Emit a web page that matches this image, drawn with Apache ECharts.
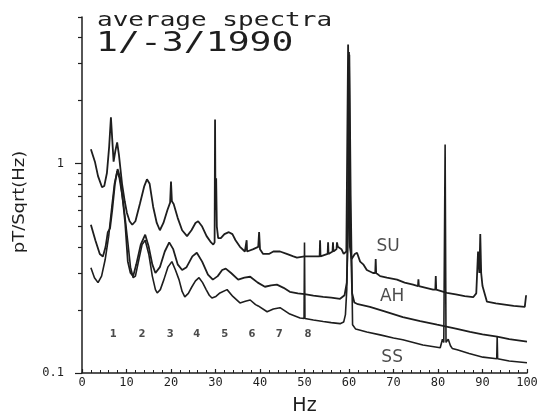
<!DOCTYPE html>
<html><head><meta charset="utf-8">
<script src="https://cdn.jsdelivr.net/npm/echarts@6/dist/echarts.min.js"></script>
<style>html,body{margin:0;padding:0;background:#fff}#c{width:542px;height:412px}</style>
</head><body><div id="c"></div>
<script>
// ---- data ----
const suHz = [2.0,2.9,3.6,4.5,5.0,5.6,6.1,6.5,6.8,7.1,7.5,7.9,8.3,9.0,9.6,10.1,10.7,11.3,12.0,13.0,14.0,14.6,15.2,16.0,16.8,17.5,18.3,19.2,19.8,20.0,20.2,20.6,21.5,22.5,23.6,24.6,25.5,26.1,27.0,28.0,29.0,29.5,29.8,29.9,30.0,30.15,30.3,30.6,31.2,32.0,33.0,33.8,34.5,35.5,36.6,36.9,37.0,37.1,38.5,39.6,39.8,40.0,40.7,42.0,43.0,44.5,46.0,47.5,48.3,50.0,52.0,53.4,53.5,53.6,55.2,55.3,55.4,56.3,56.4,56.5,57.2,57.3,57.5,58.3,58.8,59.4,59.8,60.2,60.6,61.3,61.8,62.5,63.2,64.0,65.4,65.9,66.0,66.1,67.0,68.5,70.8,72.5,74.4,75.5,75.6,75.7,76.0,78.9,79.4,79.5,79.6,80.0,82.0,84.0,86.0,87.9,88.6,89.0,89.3,89.5,89.7,90.0,91.0,93.0,95.0,97.0,99.5,99.8];
const suVal = [1.17,1.02,0.87,0.77,0.78,0.90,1.20,1.66,1.30,1.02,1.15,1.26,1.10,0.80,0.66,0.58,0.53,0.51,0.53,0.64,0.78,0.84,0.80,0.62,0.52,0.48,0.52,0.60,0.65,0.82,0.66,0.64,0.55,0.48,0.45,0.48,0.52,0.53,0.50,0.45,0.42,0.41,0.42,1.62,0.60,0.85,0.50,0.44,0.44,0.46,0.47,0.46,0.43,0.40,0.38,0.38,0.43,0.38,0.39,0.40,0.47,0.39,0.37,0.37,0.38,0.38,0.37,0.36,0.355,0.36,0.36,0.36,0.43,0.36,0.37,0.42,0.37,0.38,0.42,0.38,0.39,0.42,0.40,0.39,0.37,0.38,3.70,0.40,0.35,0.37,0.375,0.34,0.33,0.31,0.30,0.30,0.35,0.30,0.29,0.285,0.279,0.27,0.264,0.26,0.28,0.26,0.257,0.25,0.25,0.29,0.25,0.248,0.241,0.237,0.233,0.23,0.24,0.38,0.30,0.46,0.30,0.26,0.219,0.215,0.212,0.209,0.207,0.235];

const ahHz = [2.0,3.0,4.0,4.7,5.3,5.8,6.3,6.8,7.4,8.0,8.6,9.2,9.7,10.3,10.9,11.5,12.2,13.2,14.2,15.0,15.8,16.5,17.5,18.6,19.6,20.5,21.5,22.5,23.5,24.8,25.8,27.0,28.3,29.4,30.5,31.5,32.3,33.5,35.1,36.5,37.8,39.5,41.1,42.5,43.8,45.3,46.7,48.5,50.0,52.0,54.2,56.0,58.0,59.0,59.5,59.8,60.0,60.3,60.7,61.2,62.0,64.7,68.0,72.1,76.0,79.8,84.0,87.2,90.0,93.3,96.0,100.0];
const ahVal = [0.51,0.43,0.37,0.36,0.40,0.47,0.49,0.60,0.80,0.94,0.85,0.66,0.52,0.34,0.30,0.29,0.33,0.41,0.457,0.40,0.33,0.30,0.32,0.38,0.42,0.39,0.33,0.31,0.32,0.36,0.375,0.34,0.295,0.279,0.29,0.31,0.315,0.30,0.279,0.285,0.288,0.27,0.258,0.262,0.264,0.255,0.244,0.24,0.238,0.234,0.231,0.229,0.226,0.235,0.27,0.50,3.40,0.50,0.24,0.217,0.213,0.207,0.197,0.185,0.177,0.17,0.163,0.157,0.153,0.149,0.145,0.141];

const ssHz = [2.0,2.8,3.6,4.4,5.2,6.0,6.7,7.3,7.9,8.4,9.0,9.6,10.3,10.9,11.5,12.0,12.8,13.5,14.2,15.0,15.8,16.5,16.9,17.6,18.4,19.3,20.2,21.0,21.8,22.5,23.1,23.9,24.7,25.5,26.3,27.1,27.9,28.6,29.2,30.1,31.0,32.6,33.9,35.5,36.7,37.8,39.0,39.6,41.6,43.0,44.5,45.6,46.7,49.0,49.9,50.0,50.1,52.0,54.2,56.0,58.0,58.8,59.2,59.5,59.8,60.1,60.4,60.6,60.8,61.5,64.0,67.0,70.0,72.1,76.6,80.5,80.8,81.0,81.3,81.6,81.8,82.3,82.8,83.2,84.3,87.0,90.1,93.2,93.3,93.4,96.0,100.0];
const ssVal = [0.318,0.285,0.27,0.29,0.347,0.45,0.62,0.80,0.92,0.85,0.71,0.57,0.42,0.32,0.285,0.29,0.35,0.41,0.43,0.37,0.29,0.25,0.241,0.25,0.279,0.32,0.34,0.31,0.279,0.245,0.231,0.24,0.258,0.275,0.285,0.27,0.25,0.235,0.228,0.232,0.241,0.25,0.232,0.216,0.22,0.223,0.212,0.209,0.196,0.202,0.205,0.198,0.191,0.183,0.182,0.42,0.182,0.179,0.176,0.174,0.172,0.175,0.19,0.25,0.60,3.30,0.70,0.35,0.17,0.162,0.157,0.152,0.147,0.144,0.136,0.132,0.131,0.145,0.14,1.23,0.14,0.145,0.135,0.131,0.129,0.124,0.119,0.117,0.149,0.117,0.114,0.112];

const curveNames = ['SU','AH','SS'];
const curveNameHz = [68.8,69.7,69.7];
const curveNameVal = [0.40,0.231,0.118];

const modeNames = ['1','2','3','4','5','6','7','8'];
const modeHz = [7.0,13.5,19.8,25.8,32.1,38.2,44.3,50.8];
const modeVal = 0.152;

const yMajorTicks = [0.1,1];
const yMajorLabels = ['0.1','1'];
const yMinorTicks = [0.2,0.3,0.4,0.5,0.6,0.7,0.8,0.9,2,3,4,5];

const titleLine1 = 'average spectra';
const titleLine2 = '1/-3/1990';
const yName = 'pT/Sqrt(Hz)';
const xName = 'Hz';

// ---- chart ----
const zip = (xs, ys) => xs.map((x, i) => [x, ys[i]]);
const ink = '#1e1e1e';
const chart = echarts.init(document.getElementById('c'), null, {renderer: 'canvas'});

const lineSeries = (name, xs, ys, w) => ({
  name, type: 'line', data: zip(xs, ys), showSymbol: false, symbol: 'none',
  lineStyle: {color: ink, width: w}, animation: false, z: 3
});

chart.setOption({
  backgroundColor: '#fff',
  animation: false,
  grid: {left: 82, right: 15, top: 17, bottom: 39, containLabel: false, outerBoundsMode: 'none'},
  xAxis: {
    type: 'value', min: 0, max: 100, interval: 10,
    axisLine: {lineStyle: {color: ink, width: 1.5}},
    axisTick: {inside: true, length: 4, lineStyle: {color: ink, width: 1.2}},
    minorTick: {show: true, splitNumber: 5, length: 3, lineStyle: {color: ink, width: 1}},
    splitLine: {show: false},
    axisLabel: {color: ink, fontFamily: 'DejaVu Sans Mono', fontSize: 12, margin: 4},
    name: xName, nameLocation: 'middle', nameGap: 24,
    nameTextStyle: {color: ink, fontFamily: 'DejaVu Sans', fontSize: 19}
  },
  yAxis: [{
    type: 'log', logBase: 10, min: 0.1, max: 5,
    axisLine: {lineStyle: {color: ink, width: 1.5}},
    axisTick: {length: 7, customValues: yMajorTicks, lineStyle: {color: ink, width: 1.2}},
    axisLabel: {customValues: yMajorTicks, color: ink, fontFamily: 'DejaVu Sans Mono', fontSize: 12, margin: 18,
      formatter: v => { const i = yMajorTicks.findIndex(t => Math.abs(t - v) < 1e-9); return i >= 0 ? yMajorLabels[i] : ''; }},
    splitLine: {show: false}, minorTick: {show: false}
  }, {
    type: 'log', logBase: 10, min: 0.1, max: 5, position: 'left',
    axisLine: {show: false},
    axisTick: {length: 4, customValues: yMinorTicks, lineStyle: {color: ink, width: 1.2}},
    axisLabel: {show: false}, splitLine: {show: false}
  }],
  series: [
    lineSeries('SU', suHz, suVal, 1.8),
    lineSeries('AH', ahHz, ahVal, 1.8),
    lineSeries('SS', ssHz, ssVal, 1.6),
    {
      type: 'scatter', symbolSize: 0, silent: true, z: 5,
      data: curveNames.map((n, i) => ({name: n, value: [curveNameHz[i], curveNameVal[i]]})),
      label: {show: true, position: 'inside', formatter: '{b}', color: ink, fontFamily: 'DejaVu Sans', fontSize: 17}
    },
    {
      type: 'scatter', symbolSize: 0, silent: true, z: 5,
      data: modeNames.map((n, i) => ({name: n, value: [modeHz[i], modeVal]})),
      label: {show: true, position: 'inside', formatter: '{b}', color: ink, fontFamily: 'DejaVu Sans', fontWeight: 'bold', fontSize: 10}
    }
  ],
  graphic: [
    {type: 'text', x: 97, y: 21, scaleX: 1.37, z: 10,
      style: {text: titleLine1, font: '19px "DejaVu Sans Mono"', fill: ink, textVerticalAlign: 'middle'}},
    {type: 'text', x: 96, y: 44, scaleX: 1.35, z: 10,
      style: {text: titleLine2, font: '27px "DejaVu Sans Mono"', fill: ink, textVerticalAlign: 'middle'}},
    {type: 'text', x: 20, y: 202, rotation: Math.PI / 2, scaleX: 1.12, z: 10,
      style: {text: yName, font: '16px "DejaVu Sans"', fill: ink, textAlign: 'center', textVerticalAlign: 'middle'}}
  ]
});
</script></body></html>
